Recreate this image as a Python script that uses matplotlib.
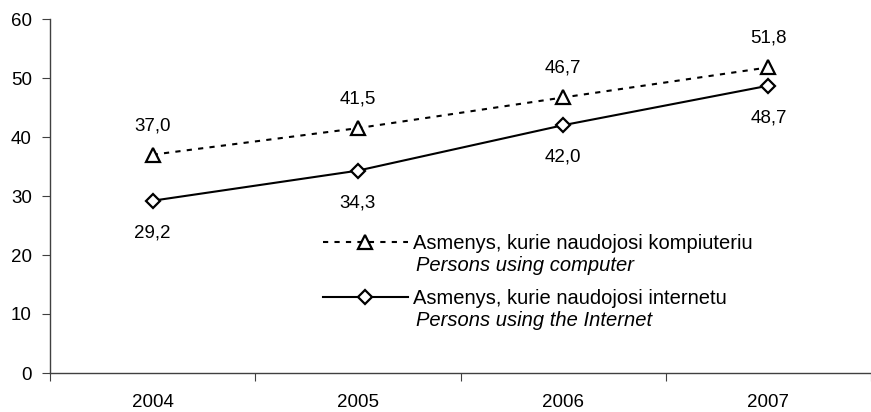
import matplotlib
matplotlib.use("Agg")
import matplotlib.pyplot as plt
import matplotlib.transforms as mtransforms

plt.rcParams['font.family'] = ['Liberation Sans', 'DejaVu Sans']

# Duomenys
metai = ["2004", "2005", "2006", "2007"]
kompiuteris = [37.0, 41.5, 46.7, 51.8]
internetas = [29.2, 34.3, 42.0, 48.7]

lt_komp = "Asmenys, kurie naudojosi kompiuteriu"
en_komp = "Persons using computer"
lt_int = "Asmenys, kurie naudojosi internetu"
en_int = "Persons using the Internet"

fs = 13.5
fs_leg = 14.5


def kablelis(v):
    return f"{v:.1f}".replace(".", ",")


fig = plt.figure(figsize=(8.71, 4.12), dpi=100)
ax = fig.add_axes([50 / 871, 1 - 373 / 412, 1 - 50 / 871, (373 - 19) / 412])

x = list(range(len(metai)))
ax.plot(x, kompiuteris, color="black", lw=1.5, dashes=(2.5, 3),
        marker="^", markersize=9.5, markerfacecolor="white",
        markeredgecolor="black", markeredgewidth=1.6, label=lt_komp)
ax.plot(x, internetas, color="black", lw=1.5,
        marker="D", markersize=7.5, markerfacecolor="white",
        markeredgecolor="black", markeredgewidth=1.6, label=lt_int)

for xi, v in zip(x, kompiuteris):
    ax.annotate(kablelis(v), (xi, v), xytext=(0, 21), textcoords="offset points",
                ha="center", va="center", fontsize=fs)
for xi, v in zip(x, internetas):
    ax.annotate(kablelis(v), (xi, v), xytext=(0, -23), textcoords="offset points",
                ha="center", va="center", fontsize=fs)

ax.set_xlim(-0.5, len(metai) - 0.5)
ax.set_ylim(0, 60)
ax.set_yticks(range(0, 61, 10))
ax.set_xticks([i - 0.5 for i in range(len(metai) + 1)])
ax.set_xticklabels([])
ax.set_xticks(x, minor=True)
ax.set_xticklabels(metai, minor=True, fontsize=fs)
ax.tick_params(axis="x", which="minor", length=0, pad=15)
ax.tick_params(axis="x", which="major", length=6, color="#404040")
ax.tick_params(axis="y", length=6, pad=7, labelsize=fs, color="#404040")

for s in ["top", "right"]:
    ax.spines[s].set_visible(False)
for s in ["left", "bottom"]:
    ax.spines[s].set_color("#404040")
    ax.spines[s].set_linewidth(1.0)

leg = ax.legend(loc="upper left", bbox_to_anchor=(273 / 821, (373 - 234) / 354),
                frameon=False, fontsize=fs_leg, handlelength=4.2,
                handletextpad=0.25, labelspacing=1.8, borderpad=0, borderaxespad=0)

# Antra legendos eilute kursyvu
fig.canvas.draw()
pix = mtransforms.IdentityTransform()
for t, en in zip(leg.get_texts(), [en_komp, en_int]):
    bb = t.get_window_extent()
    fig.text(bb.x0 + 3, bb.y0 - 3, en, transform=pix, fontsize=fs_leg,
             style="italic", ha="left", va="top")

fig.savefig("out.png", dpi=100)
